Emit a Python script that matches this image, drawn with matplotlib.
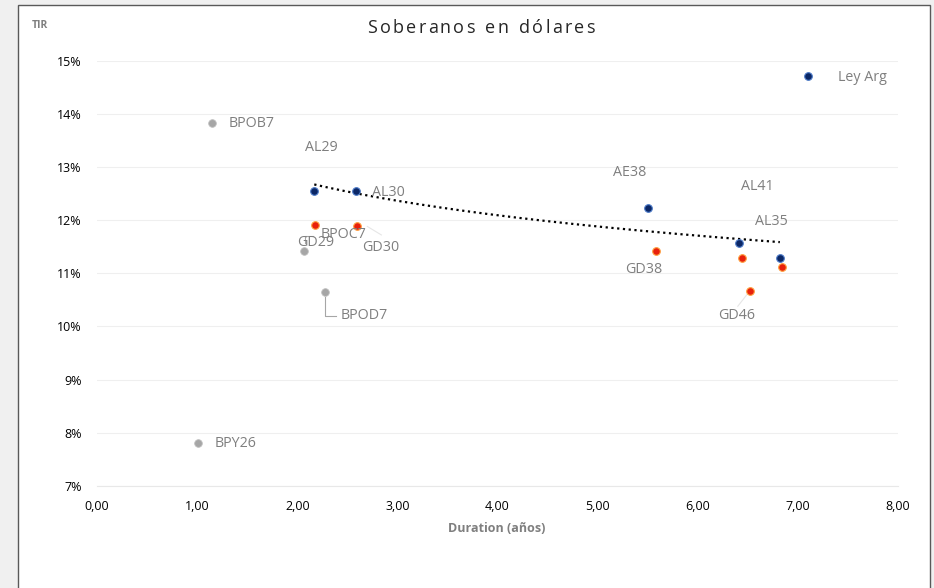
import numpy as np
import matplotlib
matplotlib.use("Agg")
import matplotlib.pyplot as plt
from matplotlib.patches import Rectangle
from matplotlib.lines import Line2D

plt.rcParams['font.family'] = ['Open Sans', 'DejaVu Sans']

# Data
ley_ny_dur = [2.17, 2.59, 5.50, 6.41, 6.82]
ley_ny_tir = [12.55, 12.55, 12.23, 11.57, 11.29]
gd_dur = [2.18, 2.60, 5.58, 6.44, 6.52, 6.84]
gd_tir = [11.91, 11.89, 11.42, 11.29, 10.67, 11.12]
prov_dur = [1.15, 2.07, 2.28, 1.01]
prov_tir = [13.83, 11.42, 10.65, 7.81]
legend_label = "Ley Arg"

labels = ["BPOB7", "AL29", "AL30", "BPOC7", "GD29", "GD30", "BPOD7", "BPY26",
          "AE38", "AL41", "AL35", "GD38", "GD46"]
label_x = [1.31, 2.08, 2.75, 2.23, 2.00, 2.65, 2.43, 1.17, 5.15, 6.43, 6.57, 5.27, 6.20]
label_y = [13.82, 13.37, 12.52, 11.72, 11.57, 11.48, 10.20, 7.80, 12.89, 12.64, 11.97, 11.07, 10.20]

xticks = [0, 1, 2, 3, 4, 5, 6, 7, 8]
yticks = [7, 8, 9, 10, 11, 12, 13, 14, 15]

fig = plt.figure(figsize=(9.34, 5.88), dpi=100)
fig.patch.set_facecolor('#f0f0f0')
frame = Rectangle((18/934, -0.01), (930-18)/934, 1 - 5/588 + 0.01,
                  transform=fig.transFigure, facecolor='white',
                  edgecolor='#595959', linewidth=1.0, zorder=-10)
fig.patches.append(frame)

ax = fig.add_axes([97/934, 1 - 486/588, (898-97)/934, (486-60.5)/588])
ax.set_facecolor('none')
ax.set_xlim(0, 8)
ax.set_ylim(7, 15)
ax.set_xticks(xticks)
ax.set_yticks(yticks)
ax.set_xticklabels([f"{v:.2f}".replace('.', ',') for v in xticks])
ax.set_yticklabels([f"{v}%" for v in yticks])
ax.tick_params(length=0, labelsize=9, colors='#000000')
ax.tick_params(axis='y', pad=11)
ax.tick_params(axis='x', pad=10)
for s in ['top', 'right', 'left']:
    ax.spines[s].set_visible(False)
ax.spines['bottom'].set_color('#e8e8e8')
ax.grid(axis='y', color='#efefef', linewidth=0.8)
ax.set_axisbelow(True)

ms = 5.5
ax.plot(prov_dur, prov_tir, 'o', color='#a6a6a6', ms=ms, mec='#bfbfbf', mew=0.6, zorder=3)
ax.plot(gd_dur, gd_tir, 'o', color='#e8200c', ms=ms, mec='#ffa040', mew=0.8, zorder=3)
ax.plot(ley_ny_dur, ley_ny_tir, 'o', color='#0b2766', ms=ms, mec='#4c7ac8', mew=0.8, zorder=3)

# logarithmic trend line on blue series
b, a = np.polyfit(np.log(ley_ny_dur), ley_ny_tir, 1)
xt = np.linspace(min(ley_ny_dur), max(ley_ny_dur), 200)
ax.plot(xt, a + b * np.log(xt), linestyle=(0, (1, 1.6)), color='black', linewidth=1.6, zorder=2)

for t, x, y in zip(labels, label_x, label_y):
    ax.text(x, y, t, fontsize=10.3, color='#7f7f7f', va='center', ha='left', zorder=4)

# leader lines
ax.plot([2.08, 2.08, 2.16], [11.57, 11.70, 11.70], color='#a6a6a6', lw=0.8)
ax.plot([2.28, 2.28, 2.39], [10.55, 10.20, 10.20], color='#a6a6a6', lw=0.8)
ax.plot([2.70, 2.84], [11.88, 11.72], color='#e6e6e6', lw=0.8)
ax.plot([6.50, 6.40], [10.62, 10.38], color='#e6e6e6', lw=0.8)

handle = Line2D([], [], marker='o', linestyle='none', color='#0b2766', ms=ms,
                mec='#4c7ac8', mew=0.8)
leg = ax.legend([handle], [legend_label], loc='center left', frameon=False,
                bbox_to_anchor=(0.870, 0.959), fontsize=10.3, handletextpad=1.1,
                borderpad=0, borderaxespad=0, numpoints=1)
for txt in leg.get_texts():
    txt.set_color('#7f7f7f')

# letter-spaced title
title = "Soberanos en dólares"
fig.canvas.draw()
renderer = fig.canvas.get_renderer()
spacing = 2.2
widths = []
for ch in title:
    t = fig.text(0, 0, ch if ch != ' ' else 'n', fontsize=13)
    w = t.get_window_extent(renderer).width
    if ch == ' ':
        w *= 0.55
    widths.append(w)
    t.remove()
total = sum(widths) + spacing * (len(title) - 1)
xpix = 481 - total / 2
for ch, w in zip(title, widths):
    if ch != ' ':
        fig.text(xpix / 934, 1 - 28/588, ch, ha='left', va='center',
                 fontsize=13, color='#262626')
    xpix += w + spacing

fig.text(32/934, 1 - 25/588, "TIR", ha='left', va='center', fontsize=7.5,
         fontweight='bold', color='#7f7f7f')
fig.text(497/934, 1 - 528/588, "Duration (años)", ha='center', va='center',
         fontsize=9, fontweight='bold', color='#7f7f7f')

fig.savefig('out.png', dpi=100)
